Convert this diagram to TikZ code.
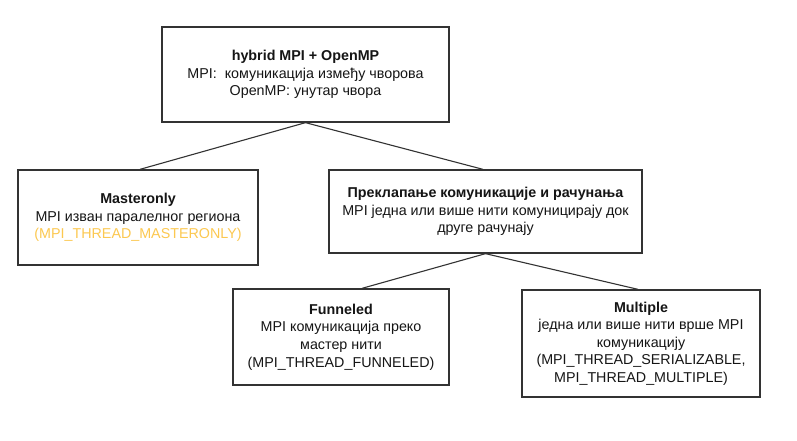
\documentclass[tikz,border=0pt]{standalone}
\usepackage{fontspec}
\setmainfont{Liberation Sans}
\definecolor{boxline}{HTML}{333333}
\definecolor{txt}{HTML}{151515}
\definecolor{orangetxt}{RGB}{252,200,80}
\begin{document}
\begin{tikzpicture}[x=1pt,y=-1pt,
  box/.style={draw=boxline, line width=1.3pt, fill=white, inner sep=0pt, align=center,
    text=txt, font=\fontsize{14.3}{17.6}\selectfont},
  link/.style={draw=boxline, line width=1.1pt}]
\useasboundingbox[fill=white] (0,0) rectangle (797,441);
% boxes
\node[box, minimum width=287pt, minimum height=95pt] (top) at (305.5,74.5)
  {\textbf{hybrid MPI + OpenMP}\\MPI:\ \ комуникација између чворова\\OpenMP: унутар чвора};
\node[box, minimum width=240pt, minimum height=95pt] (master) at (138,217.5)
  {\textbf{Masteronly}\\MPI изван паралелног региона\\\textcolor{orangetxt}{(MPI\_THREAD\_MASTERONLY)}};
\node[box, minimum width=313pt, minimum height=83pt] (overlap) at (485.5,211.5)
  {\textbf{Преклапање комуникације и рачунања}\\MPI једна или више нити комуницирају док\\друге рачунају};
\node[box, minimum width=216pt, minimum height=96pt] (funnel) at (341,337)
  {\textbf{Funneled}\\MPI комуникација преко\\мастер нити\\(MPI\_THREAD\_FUNNELED)};
\node[box, minimum width=238pt, minimum height=107pt] (multi) at (641,343.5)
  {\textbf{Multiple}\\једна или више нити врше MPI\\комуникацију\\(MPI\_THREAD\_SERIALIZABLE,\\MPI\_THREAD\_MULTIPLE)};
% connector end points
\coordinate (topb) at (top.south);
\coordinate (mastert) at ([xshift=2pt]master.north);
\coordinate (overlapt) at ([xshift=-2.5pt]overlap.north);
\coordinate (overlapb) at (overlap.south);
\coordinate (funnelt) at ([xshift=21pt]funnel.north);
\coordinate (multit) at ([xshift=-3pt]multi.north);
\draw[link] (mastert) -- (topb) -- (overlapt);
\draw[link] (funnelt) -- (overlapb) -- (multit);
\end{tikzpicture}
\end{document}
